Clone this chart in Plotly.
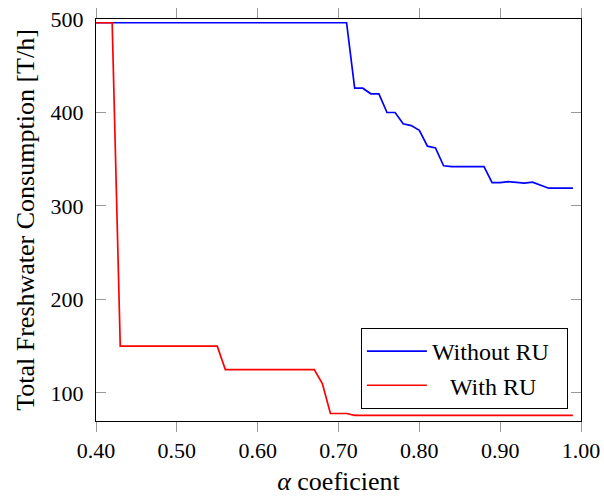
import plotly.graph_objects as go

# Data
alpha_without = [0.40, 0.71, 0.72, 0.73, 0.74, 0.75, 0.76, 0.77, 0.78, 0.79, 0.80,
                 0.81, 0.82, 0.83, 0.84, 0.88, 0.89, 0.90, 0.91, 0.92, 0.93, 0.94,
                 0.95, 0.96, 0.99]
fw_without_ru = [496, 496, 426, 426, 420, 420, 400, 400, 388, 386, 381,
                 364, 362, 343, 342, 342, 325, 325, 326, 325.5, 324.5, 325.5,
                 322, 319, 319]

alpha_with = [0.40, 0.42, 0.43, 0.55, 0.56, 0.67, 0.68, 0.69, 0.71, 0.72, 0.99]
fw_with_ru = [496, 496, 150, 150, 125, 125, 110, 78, 78, 76, 76]

x_ticks = [0.40, 0.50, 0.60, 0.70, 0.80, 0.90, 1.00]
x_tick_labels = ["0.40", "0.50", "0.60", "0.70", "0.80", "0.90", "1.00"]
y_ticks = [100, 200, 300, 400, 500]

FONT = "Liberation Serif"

fig = go.Figure()
fig.add_trace(go.Scatter(x=alpha_without, y=fw_without_ru, mode="lines",
                         name="Without RU\u00a0\u00a0",
                         line=dict(color="#0000ff", width=1.7)))
fig.add_trace(go.Scatter(x=alpha_with, y=fw_with_ru, mode="lines",
                         name="\u00a0\u00a0\u00a0With RU",
                         line=dict(color="#ff0000", width=1.7)))

fig.update_layout(
    width=604, height=496,
    margin=dict(l=96, r=23, t=19, b=75),
    plot_bgcolor="white", paper_bgcolor="white",
    font=dict(family=FONT, color="black", size=21),
    showlegend=True,
    legend=dict(x=0.973, xanchor="right", y=0.03, yanchor="bottom",
                bgcolor="white", bordercolor="black", borderwidth=1,
                font=dict(family=FONT, size=24, color="black"),
                itemwidth=60, tracegroupgap=0),
    xaxis=dict(range=[0.40, 1.00], tickvals=x_ticks, ticktext=x_tick_labels,
               showgrid=False, zeroline=False, automargin=False,
               showline=True, linecolor="black", linewidth=1, mirror="allticks",
               ticks="outside", ticklen=10, tickwidth=1.3, tickcolor="#999999",
               tickfont=dict(family=FONT, size=22),
               title=dict(text="<i>α</i> coeficient", font=dict(family=FONT, size=26),
                          standoff=11)),
    yaxis=dict(range=[70, 500], tickvals=y_ticks,
               showgrid=False, zeroline=False, automargin=False,
               showline=True, linecolor="black", linewidth=1, mirror="allticks",
               ticks="inside", ticklen=10, tickwidth=1.3, tickcolor="#999999",
               tickfont=dict(family=FONT, size=22), ticklabelstandoff=7,
               title=dict(text="Total Freshwater Consumption [T/h]",
                          font=dict(family=FONT, size=26), standoff=8)),
)

fig.write_html("out.html", config={"displayModeBar": False},
               post_script="document.body.style.margin='0';document.body.style.overflow='hidden';")
